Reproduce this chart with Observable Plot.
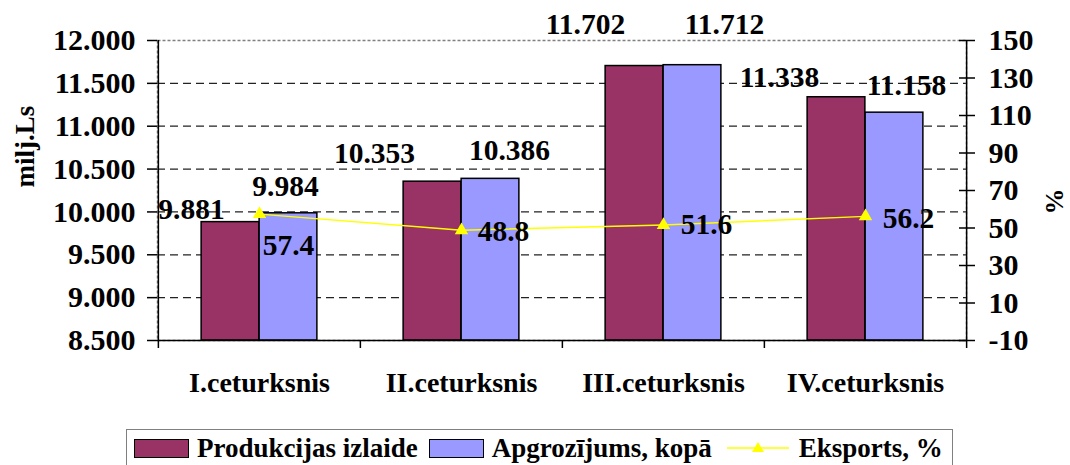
<!DOCTYPE html>
<html><head><meta charset="utf-8">
<script src="https://cdn.jsdelivr.net/npm/d3@7"></script>
<script src="https://cdn.jsdelivr.net/npm/@observablehq/plot@0.6"></script>
<style>
body{margin:0;background:#fff;}
#wrap{position:relative;width:1070px;height:465px;overflow:hidden;font-family:"Liberation Serif","Times New Roman",serif;font-weight:bold;}
#chart svg text{font-family:"Liberation Serif","Times New Roman",serif !important;font-weight:bold !important;}
#legend{position:absolute;left:126px;top:429px;width:827px;height:44px;border:1.5px solid #808080;box-sizing:border-box;display:flex;align-items:center;font-size:27px;color:#000;white-space:nowrap;padding-left:7px;padding-bottom:6px;}
.sw{display:inline-block;width:55px;height:19px;border:1px solid #000;box-sizing:border-box;margin-right:8px;}
.item{display:flex;align-items:center;margin-right:11px;}
</style></head><body>
<div id="wrap"><div id="chart"></div><div id="legend"></div></div>
<script>
// ---- data ----
const categories = ["I.ceturksnis", "II.ceturksnis", "III.ceturksnis", "IV.ceturksnis"];
const produkcija = [9.881, 10.353, 11.702, 11.338];
const apgrozijums = [9.984, 10.386, 11.712, 11.158];
const eksports = [57.4, 48.8, 51.6, 56.2];
const leftTicks = [8.5, 9, 9.5, 10, 10.5, 11, 11.5, 12];
const rightTicks = [-10, 10, 30, 50, 70, 90, 110, 130, 150];
const seriesNames = ["Produkcijas izlaide", "Apgrozījums, kopā", "Eksports, %"];
const colors = ["#993366", "#9999FF", "#FFFF00"];

// ---- layout / style constants ----
const W = 1070, H = 420, mL = 157, mR = 104, mT = 40, mB = 80;
const step = (W - mL - mR) / categories.length;
const barW = 58;
const yMin = leftTicks[0], yMax = leftTicks[leftTicks.length - 1];
const pMin = rightTicks[0], pMax = rightTicks[rightTicks.length - 1];
const pToY = p => yMin + (p - pMin) / (pMax - pMin) * (yMax - yMin);
const yToP = v => pMin + (v - yMin) / (yMax - yMin) * (pMax - pMin);
// label nudges (px): dx from category centre, dy from value position
const nudgeProd = [[-68, -13], [-87, -28], [-78, -41], [-86, -20]];
const nudgeApgr = [[26, -27], [48, -28], [61, -41], [41, -27]];
const nudgeEksp = [[29, 31], [42, 1], [43, 0], [43, 2]];
const FONT = "Liberation Serif, Times New Roman, serif";

const rows = categories.map((c, i) => ({c, i, prod: produkcija[i], apgr: apgrozijums[i], eksp: eksports[i], ey: pToY(eksports[i])}));

const txt = {fontFamily: FONT, fontWeight: "bold", fontSize: 29.5, fill: "#000"};
const labelMarks = [];
rows.forEach((r, i) => {
  labelMarks.push(Plot.text([r], {x: "c", y: "prod", text: d => d.prod.toFixed(3), dx: nudgeProd[i][0], dy: nudgeProd[i][1], ...txt}));
  labelMarks.push(Plot.text([r], {x: "c", y: "apgr", text: d => d.apgr.toFixed(3), dx: nudgeApgr[i][0], dy: nudgeApgr[i][1], ...txt}));
  labelMarks.push(Plot.text([r], {x: "c", y: "ey", text: d => d.eksp.toFixed(1), dx: nudgeEksp[i][0], dy: nudgeEksp[i][1], ...txt}));
});

const plot = Plot.plot({
  width: W, height: H,
  marginLeft: mL, marginRight: mR, marginTop: mT, marginBottom: mB,
  style: {fontFamily: FONT, fontWeight: "bold", background: "#fff", overflow: "visible"},
  x: {type: "band", domain: categories, padding: 0, label: null},
  y: {domain: [yMin, yMax], label: null},
  marks: [
    Plot.gridY({ticks: leftTicks.slice(1, -1), stroke: "#222", strokeOpacity: 1, strokeWidth: 1.2, strokeDasharray: "8,5"}),
    Plot.frame({stroke: "#808080", strokeDasharray: "3,2", strokeWidth: 1.5}),
    Plot.barY(rows, {x: "c", y1: yMin, y2: "prod", fill: colors[0], stroke: "#000", strokeWidth: 1.5, insetLeft: step / 2 - barW, insetRight: step / 2}),
    Plot.barY(rows, {x: "c", y1: yMin, y2: "apgr", fill: colors[1], stroke: "#000", strokeWidth: 1.5, insetLeft: step / 2, insetRight: step / 2 - barW}),
    Plot.line(rows, {x: "c", y: "ey", stroke: colors[2], strokeWidth: 1.5}),
    Plot.dot(rows, {x: "c", y: "ey", symbol: "triangle", fill: colors[2], r: 5}),
    // axis lines
    Plot.ruleY([yMin], {stroke: "#000", strokeWidth: 1.5}),
    Plot.ruleX([categories[0]], {dx: -step / 2, y1: yMin, y2: yMax, stroke: "#000", strokeWidth: 1.5}),
    Plot.ruleX([categories[categories.length - 1]], {dx: step / 2, y1: yMin, y2: yMax, stroke: "#000", strokeWidth: 1.5}),
    // left axis
    Plot.axisY({anchor: "left", label: null, ticks: leftTicks, tickSize: 10, tickPadding: 12, tickFormat: d => d.toFixed(3), fontSize: 30, fontWeight: "bold", fontFamily: FONT, stroke: "#000", strokeWidth: 1.5}),
    // right axis (cross ticks + labels)
    Plot.axisY({anchor: "right", label: null, ticks: rightTicks.map(pToY), tickSize: 16, dx: -8, tickFormat: () => "", stroke: "#000", strokeWidth: 1.5}),
    Plot.axisY({anchor: "right", label: null, ticks: rightTicks.map(pToY), tickSize: 0, tickPadding: 22, tickFormat: v => String(Math.round(yToP(v))), fontSize: 30, fontWeight: "bold", fontFamily: FONT}),
    // bottom boundary ticks
    Plot.axisX({label: null, ticks: categories, tickSize: 8, dx: -step / 2, tickFormat: () => "", stroke: "#000", strokeWidth: 1.5}),
    Plot.axisX({label: null, ticks: [categories[categories.length - 1]], tickSize: 8, dx: step / 2, tickFormat: () => "", stroke: "#000", strokeWidth: 1.5}),
    // category labels
    Plot.axisX({label: null, ticks: categories, tickSize: 0, tickPadding: 32, fontSize: 28, fontWeight: "bold", fontFamily: FONT}),
    // axis titles
    Plot.text(["milj.Ls"], {frameAnchor: "left", dx: -132, dy: -3, rotate: -90, ...txt, fontSize: 27}),
    Plot.text(["%"], {frameAnchor: "right", dx: 88, dy: -2, rotate: -90, ...txt, fontSize: 26}),
    ...labelMarks
  ]
});
document.getElementById("chart").appendChild(plot);

// legend
const lg = document.getElementById("legend");
seriesNames.forEach((name, k) => {
  const item = document.createElement("div");
  item.className = "item";
  if (k < 2) {
    const sw = document.createElement("span");
    sw.className = "sw";
    sw.style.background = colors[k];
    item.appendChild(sw);
  } else {
    const ns = "http://www.w3.org/2000/svg";
    const s = document.createElementNS(ns, "svg");
    s.setAttribute("width", 62); s.setAttribute("height", 20);
    s.style.marginRight = "10px";
    s.style.marginLeft = "4px";
    const l = document.createElementNS(ns, "line");
    l.setAttribute("x1", 0); l.setAttribute("x2", 62); l.setAttribute("y1", 10); l.setAttribute("y2", 10);
    l.setAttribute("stroke", colors[2]); l.setAttribute("stroke-width", 1.5);
    const t = document.createElementNS(ns, "path");
    t.setAttribute("d", "M31,4 L37,14 L25,14 Z");
    t.setAttribute("fill", colors[2]);
    s.appendChild(l); s.appendChild(t);
    item.appendChild(s);
  }
  const tx = document.createElement("span");
  tx.textContent = name;
  item.appendChild(tx);
  lg.appendChild(item);
});
</script>
</body></html>
